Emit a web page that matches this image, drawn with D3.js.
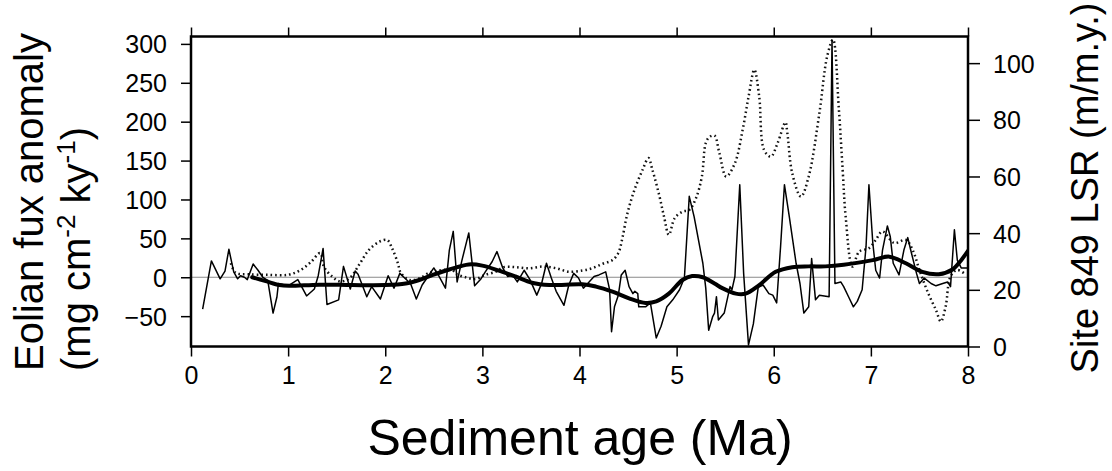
<!DOCTYPE html>
<html>
<head>
<meta charset="utf-8">
<script src="https://cdn.jsdelivr.net/npm/d3@7"></script>
<style>
html,body{margin:0;padding:0;background:#fff;}
svg{display:block;font-family:"Liberation Sans",Arial,Helvetica,sans-serif;}
</style>
</head>
<body>
<svg id="chart" width="1112" height="471"></svg>
<script>
// ---- Data ----
const fluxAge = [0.12,0.21,0.30,0.35,0.39,0.44,0.48,0.51,0.55,0.58,0.64,0.69,0.74,0.79,0.845,0.885,0.90,1.00,1.10,1.19,1.27,1.31,1.36,1.40,1.52,1.57,1.64,1.69,1.72,1.81,1.86,1.95,2.03,2.09,2.15,2.20,2.26,2.32,2.38,2.44,2.50,2.55,2.62,2.66,2.70,2.74,2.79,2.86,2.92,2.98,3.03,3.10,3.15,3.21,3.26,3.31,3.36,3.43,3.49,3.56,3.61,3.66,3.71,3.76,3.84,3.89,3.94,3.99,4.04,4.15,4.20,4.27,4.31,4.33,4.36,4.40,4.43,4.47,4.51,4.55,4.57,4.60,4.61,4.68,4.73,4.79,4.84,4.90,4.96,5.03,5.08,5.13,5.18,5.27,5.30,5.33,5.37,5.39,5.41,5.43,5.49,5.55,5.57,5.60,5.65,5.69,5.74,5.79,5.84,5.89,5.95,5.99,6.03,6.07,6.11,6.16,6.23,6.27,6.31,6.36,6.39,6.43,6.47,6.57,6.60,6.63,6.69,6.72,6.77,6.82,6.86,6.91,6.95,6.98,7.02,7.05,7.09,7.12,7.17,7.20,7.23,7.29,7.34,7.38,7.41,7.47,7.50,7.55,7.62,7.67,7.74,7.79,7.82,7.86,7.89,7.93,7.99];
const fluxAnom = [-41,21,-2,8,36,7,-2,2,0,-3,17,9,0,-4,-46,-25,-8,-11,-3,-24,-15,2,37,-35,-29,14,-15,8,4,-25,-12,-28,2,-14,5,-1,-8,-28,-10,1,12,2,-14,35,59,-6,22,57,-11,-3,7,20,33,12,1,3,-6,9,-3,-23,-8,18,-1,-18,-36,-10,5,-1,-14,1,3,7,-16,-70,-38,-23,3,9,-12,-21,-18,-21,-38,-38,-33,-78,-63,-38,-29,-16,-1,104,78,18,-14,-68,-51,-46,-25,-55,-46,-12,-16,1,119,5,-87,-60,-13,-10,-21,-23,-33,39,119,78,18,-8,-46,-38,24,-29,-23,-25,305,-8,-6,-12,-25,-38,-31,-16,39,119,44,9,-1,35,66,52,18,3,35,51,35,5,-8,-1,-8,-11,-8,-6,-12,61,22,12,12];

const smoothAge = [0.63,0.77,0.91,1.01,1.32,1.66,2.00,2.21,2.35,2.49,2.66,2.86,3.00,3.17,3.34,3.51,3.69,4.03,4.17,4.34,4.51,4.68,4.79,4.92,5.06,5.16,5.27,5.39,5.47,5.61,5.71,5.85,6.02,6.19,6.36,6.53,6.72,7.02,7.19,7.36,7.53,7.70,7.84,7.93,8.00];
const smoothAnom = [0,-5,-10,-11,-9.5,-10,-10,-8,-3.5,3,10,16.5,15,8.5,1,-7,-10,-9,-12,-18.5,-27,-33,-31,-21,-3.5,1.5,0,-8,-14,-21,-21,-10,7,13,14,14,16,22,26.5,18,7,4,10,22,34];

const lsrAge = [0.41,0.46,0.58,0.79,1.00,1.13,1.24,1.33,1.37,1.46,1.53,1.63,1.73,1.83,1.94,2.02,2.07,2.13,2.16,2.25,2.35,2.45,2.55,2.69,2.73,2.83,2.93,3.03,3.14,3.22,3.34,3.48,3.62,3.76,3.89,4.03,4.13,4.24,4.34,4.40,4.44,4.49,4.56,4.65,4.71,4.75,4.82,4.87,4.92,4.98,5.06,5.13,5.20,5.26,5.30,5.34,5.39,5.44,5.51,5.60,5.68,5.74,5.80,5.85,5.90,5.97,6.04,6.12,6.14,6.19,6.28,6.36,6.47,6.55,6.61,6.67,6.71,6.74,6.81,6.88,6.98,7.05,7.12,7.24,7.36,7.43,7.50,7.59,7.67,7.72,7.77,7.82,7.89,7.98];
const lsrRate = [29.4,26,25.5,25.3,25.3,27,30,33,28,24.5,23,24,28.8,34,37,37.6,34.7,29.4,26,23.5,24,26,26.8,27,25.6,24.4,23.8,25.3,26.4,28,28,27.6,28.2,27.6,26.4,26.8,27.6,29.2,30.5,33,38,46.5,54.7,62.4,66.5,62.4,53.5,45.9,39.4,45.3,47.6,48.2,52.4,60,71.8,74,74.4,68.3,60,64.7,76.5,88,97.7,88.3,69.4,67,71.8,79.1,75.3,61.2,52.9,60,82.4,102.4,108.3,84,62,46,28.2,33.5,34.7,37.6,40.6,36.5,37.6,34.1,27,18.8,12.9,8.8,14.1,24.7,27,25.3];

const xTicks = [0,1,2,3,4,5,6,7,8];
const leftTicks = [-50,0,50,100,150,200,250,300];
const rightTicks = [0,20,40,60,80,100];

// ---- Layout ----
const svg = d3.select("#chart");
const L = 191, R = 968, T = 36.5, B = 346.5;
const x = d3.scaleLinear().domain([0,8]).range([L,R]);
const yL = d3.scaleLinear().domain([-89,309.5]).range([B,T]);
const yR = d3.scaleLinear().domain([0,109.4]).range([B,T]);

const defs = svg.append("defs");
defs.append("clipPath").attr("id","clip").append("rect")
  .attr("x",L).attr("y",T).attr("width",R-L).attr("height",B-T);

// zero line
svg.append("line").attr("x1",L).attr("x2",R).attr("y1",yL(0)).attr("y2",yL(0))
  .attr("stroke","#8a8a8a").attr("stroke-width",1.2);

const plot = svg.append("g").attr("clip-path","url(#clip)");

const lsrData = lsrAge.map((a,i)=>[a,lsrRate[i]]);
const fluxData = fluxAge.map((a,i)=>[a,fluxAnom[i]]);
const smoothData = smoothAge.map((a,i)=>[a,smoothAnom[i]]);

plot.append("path").datum(lsrData)
  .attr("d", d3.line().x(d=>x(d[0])).y(d=>yR(d[1])).curve(d3.curveCatmullRom))
  .attr("fill","none").attr("stroke","#111").attr("stroke-width",2.5)
  .attr("stroke-dasharray","1.6,3");

plot.append("path").datum(fluxData)
  .attr("d", d3.line().x(d=>x(d[0])).y(d=>yL(d[1])))
  .attr("fill","none").attr("stroke","#000").attr("stroke-width",1.5)
  .attr("stroke-linejoin","round");

plot.append("path").datum(smoothData)
  .attr("d", d3.line().x(d=>x(d[0])).y(d=>yL(d[1])).curve(d3.curveCatmullRom))
  .attr("fill","none").attr("stroke","#000").attr("stroke-width",4)
  .attr("stroke-linecap","round");

// axes
function styleAxis(g){
  g.select(".domain").remove();
  g.selectAll(".tick line").attr("stroke","#000").attr("stroke-width",1.5);
  g.selectAll(".tick text").attr("fill","#000").attr("font-size",25)
   .attr("font-family","'Liberation Sans',Arial,Helvetica,sans-serif");
}
svg.append("g").attr("transform",`translate(${L},0)`)
  .call(d3.axisLeft(yL).tickValues(leftTicks).tickSize(10).tickPadding(14).tickFormat(d3.format("d")))
  .call(styleAxis)
  .selectAll(".tick text").attr("dy","0.36em");

svg.append("g").attr("transform",`translate(${R},0)`)
  .call(d3.axisRight(yR).tickValues(rightTicks).tickSize(12).tickPadding(13).tickFormat(d3.format("d")))
  .call(styleAxis)
  .selectAll(".tick text").attr("dy","0.36em");

svg.append("g").attr("transform",`translate(0,${B})`)
  .call(d3.axisBottom(x).tickValues(xTicks).tickSize(10).tickPadding(10).tickFormat(d3.format("d")))
  .call(styleAxis);

svg.append("g").attr("transform",`translate(0,${T})`)
  .call(d3.axisTop(x).tickValues(xTicks).tickSize(9).tickFormat(""))
  .call(styleAxis);

// frame
svg.append("rect").attr("x",L).attr("y",T).attr("width",R-L).attr("height",B-T)
  .attr("fill","none").attr("stroke","#000").attr("stroke-width",2.5);

// titles
svg.append("text").attr("x",580).attr("y",455).attr("text-anchor","middle")
  .attr("font-size",50).attr("fill","#000").text("Sediment age (Ma)");

svg.append("text").attr("transform","translate(43,371) rotate(-90)")
  .attr("font-size",40).attr("fill","#000").text("Eolian fux anomaly");

const t2 = svg.append("text").attr("transform","translate(90,371) rotate(-90)")
  .attr("font-size",40).attr("fill","#000");
t2.append("tspan").text("(mg cm");
t2.append("tspan").attr("font-size",26).attr("dy",-15).text("-2");
t2.append("tspan").attr("dy",15).text(" ky");
t2.append("tspan").attr("font-size",26).attr("dy",-15).text("-1");
t2.append("tspan").attr("dy",15).text(")");

svg.append("text").attr("transform","translate(1098,188) rotate(-90)")
  .attr("text-anchor","middle").attr("font-size",38).attr("fill","#000")
  .text("Site 849 LSR (m/m.y.)");
</script>
</body>
</html>
